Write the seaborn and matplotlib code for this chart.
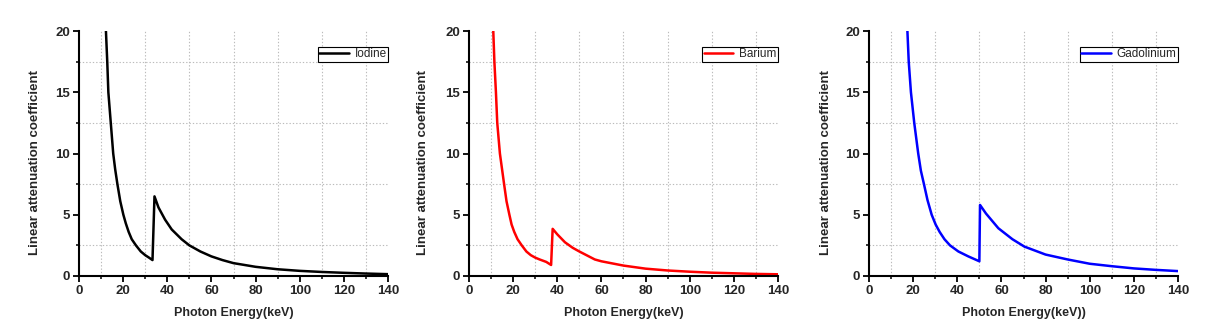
import matplotlib
matplotlib.use("Agg")
import matplotlib.pyplot as plt
import seaborn as sns
import pandas as pd
from matplotlib.ticker import MultipleLocator

# ---- data ----
iodine_energy = [12.2, 12.8, 13.3, 14.4, 15.5, 16.4, 17.4, 18.7, 20.1, 21.2, 22.5, 23.9, 25.8,
                 28.0, 30.0, 31.7, 33.3, 34.2, 36.0, 39.0, 42.0, 46.5, 50.0, 55.0, 60.0,
                 65.0, 70.0, 80.0, 90.0, 100.0, 110.0, 120.0, 130.0, 140.0]
iodine_mu = [20.0, 17.5, 15.0, 12.5, 10.0, 8.7, 7.5, 6.1, 5.0, 4.3, 3.6, 3.0, 2.5,
             2.0, 1.7, 1.5, 1.3, 6.5, 5.6, 4.6, 3.8, 3.0, 2.5, 2.0, 1.6,
             1.3, 1.05, 0.75, 0.55, 0.42, 0.33, 0.26, 0.2, 0.15]

barium_energy = [11.0, 11.5, 12.2, 12.8, 14.0, 15.9, 17.0, 18.3, 19.3, 20.5, 22.0, 23.9,
                 26.0, 28.0, 30.0, 32.0, 35.0, 37.2, 37.9, 40.0, 43.5, 47.0, 50.0, 57.0,
                 60.0, 70.0, 80.0, 90.0, 100.0, 110.0, 120.0, 130.0, 140.0]
barium_mu = [20.0, 17.5, 15.0, 12.5, 10.0, 7.5, 6.1, 5.0, 4.2, 3.6, 3.0, 2.5,
             2.0, 1.7, 1.5, 1.35, 1.15, 0.9, 3.85, 3.4, 2.75, 2.3, 2.0, 1.35,
             1.2, 0.85, 0.6, 0.45, 0.35, 0.27, 0.22, 0.17, 0.14]

gd_energy = [17.4, 18.0, 19.0, 20.5, 22.3, 23.5, 24.9, 26.5, 28.4, 30.2, 32.0, 34.2, 36.7,
             40.5, 45.0, 50.0, 50.3, 53.0, 58.6, 65.0, 70.4, 80.0, 90.0, 100.0, 110.0,
             120.0, 130.0, 140.0]
gd_mu = [20.0, 17.5, 15.0, 12.5, 10.0, 8.6, 7.5, 6.2, 5.0, 4.2, 3.6, 3.0, 2.5,
         2.0, 1.6, 1.2, 5.8, 5.1, 3.9, 3.0, 2.4, 1.75, 1.35, 1.0, 0.8,
         0.62, 0.5, 0.4]

element_names = ["Iodine", "Barium", "Gadolinium"]
line_colors = ["black", "#ff0000", "#0000ff"]
x_labels = ["Photon Energy(keV)", "Photon Energy(keV)", "Photon Energy(keV))"]
y_label = "Linear attenuation coefficient"
x_ticks = [0, 20, 40, 60, 80, 100, 120, 140]
y_ticks = [0, 5, 10, 15, 20]

series = [(iodine_energy, iodine_mu), (barium_energy, barium_mu), (gd_energy, gd_mu)]

sns.set_style("ticks")
plt.rcParams["font.family"] = ["Liberation Sans", "DejaVu Sans"]

fig = plt.figure(figsize=(12.31, 3.25), dpi=100)
lefts = [79, 469, 869]
ylabel_x = [-0.123, -0.129, -0.120]
for i, (name, color, (ex, mu)) in enumerate(zip(element_names, line_colors, series)):
    ax = fig.add_axes([lefts[i] / 1231, 1 - 276 / 325, 309 / 1231, 245 / 325])
    df = pd.DataFrame({"Energy": ex, "Mu": mu})
    sns.lineplot(data=df, x="Energy", y="Mu", ax=ax, color=color, lw=1.8,
                 label=name, sort=False, estimator=None)
    ax.set_xlim(0, 140)
    ax.set_ylim(0, 20)
    ax.set_xticks(x_ticks)
    ax.set_yticks(y_ticks)
    ax.xaxis.set_minor_locator(MultipleLocator(10))
    ax.yaxis.set_minor_locator(MultipleLocator(2.5))
    ax.grid(False)
    ax.grid(which="minor", color="#bbbbbb", linestyle=(0, (1.2, 1.8)), lw=0.8)
    for s in ["top", "right"]:
        ax.spines[s].set_visible(False)
    for s in ["left", "bottom"]:
        ax.spines[s].set_linewidth(1.5)
        ax.spines[s].set_color("black")
    ax.tick_params(which="major", direction="out", length=4.5, width=1.3,
                   labelsize=9.5, color="black", pad=2)
    ax.tick_params(which="minor", direction="out", length=2.5, width=1.1, color="black")
    for lab in ax.get_xticklabels() + ax.get_yticklabels():
        lab.set_fontweight("bold")
    ax.set_xlabel(x_labels[i], fontsize=9, fontweight="bold")
    ax.set_ylabel(y_label, fontsize=9.5, fontweight="bold")
    ax.xaxis.set_label_coords(0.5, -0.127)
    ax.yaxis.set_label_coords(ylabel_x[i], 0.465)
    leg = ax.legend(loc="upper right", bbox_to_anchor=(1.0, 0.935), borderaxespad=0,
                    fancybox=False, framealpha=1, edgecolor="black", fontsize=8.5,
                    handlelength=2.5, handletextpad=0.5, borderpad=0.12)
    leg.get_frame().set_linewidth(0.8)
    for ln in leg.get_lines():
        ln.set_linewidth(1.8)

fig.savefig("out.png", dpi=100)
